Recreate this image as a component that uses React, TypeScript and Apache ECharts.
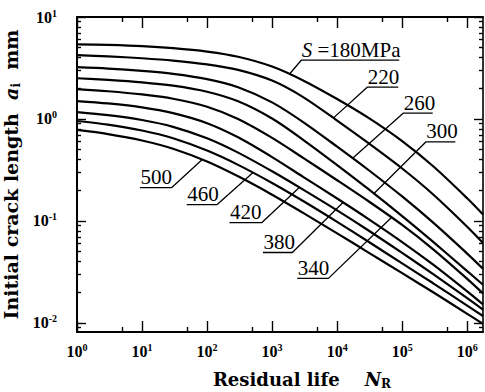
import React, { useEffect, useRef } from 'react';
import * as echarts from 'echarts';

// Residual life N_R (x) at which the crack lengths were read
const residualLife = [1, 3, 10, 30, 100, 300, 1000, 3000, 10000, 30000, 100000, 300000, 1000000, 1750000];

// Stress levels, MPa
const stressLevels = [180, 220, 260, 300, 340, 380, 420, 460, 500];

// Initial crack length a_i (mm) for each stress level
const crackS180 = [5.40, 5.32, 5.18, 4.95, 4.58, 4.08, 3.27, 2.39, 1.57, 1.03, 0.607, 0.344, 0.167, 0.116];
const crackS220 = [4.22, 4.11, 3.94, 3.74, 3.43, 3.03, 2.38, 1.64, 0.964, 0.582, 0.327, 0.182, 0.0879, 0.0609];
const crackS260 = [3.22, 3.12, 2.96, 2.77, 2.46, 2.05, 1.455, 0.933, 0.536, 0.318, 0.174, 0.0963, 0.0479, 0.0340];
const crackS300 = [2.51, 2.42, 2.29, 2.12, 1.85, 1.49, 1.01, 0.625, 0.353, 0.206, 0.1115, 0.0623, 0.0323, 0.0237];
const crackS340 = [1.96, 1.87, 1.74, 1.58, 1.32, 1.00, 0.653, 0.416, 0.251, 0.157, 0.0915, 0.0528, 0.0271, 0.0195];
const crackS380 = [1.50, 1.42, 1.30, 1.14, 0.909, 0.661, 0.423, 0.271, 0.166, 0.105, 0.0622, 0.0373, 0.0204, 0.0152];
const crackS420 = [1.17, 1.09, 0.978, 0.838, 0.647, 0.468, 0.307, 0.203, 0.127, 0.0811, 0.0486, 0.0301, 0.0175, 0.0135];
const crackS460 = [0.956, 0.880, 0.771, 0.647, 0.490, 0.355, 0.236, 0.157, 0.0981, 0.0629, 0.0384, 0.0245, 0.0148, 0.0117];
const crackS500 = [0.781, 0.711, 0.616, 0.511, 0.383, 0.274, 0.181, 0.120, 0.0757, 0.0493, 0.0308, 0.0200, 0.0123, 0.0098];

const crackByStress = [crackS180, crackS220, crackS260, crackS300, crackS340, crackS380, crackS420, crackS460, crackS500];

// Axis extents and tick values
const xMin = 1;
const xMax = 1750000;
const yMin = 0.00816;
const yMax = 10;
const xMajorTicks = [1, 10, 100, 1000, 10000, 100000, 1000000];
const xMinorTicks = [5, 50, 500, 5000, 50000, 500000];
const yMajorTicks = [0.01, 0.1, 1, 10];
const yMinorTicks = [
  0.009,
  0.02, 0.03, 0.04, 0.05, 0.06, 0.07, 0.08, 0.09,
  0.2, 0.3, 0.4, 0.5, 0.6, 0.7, 0.8, 0.9,
  2, 3, 4, 5, 6, 7, 8, 9,
];

// Curve labels: leader path in data coordinates, the text sits on point `at`
const annotationTexts = ['{it|S} =180MPa', '220', '260', '300', '340', '380', '420', '460', '500'];
const annotationPaths: number[][][] = [
  [[1858, 2.76], [2806, 3.77], [90100, 3.77]],
  [[8710, 1.02], [29000, 2.05], [87100, 2.05]],
  [[17300, 0.413], [103600, 1.14], [295000, 1.14]],
  [[36900, 0.186], [231000, 0.596], [658000, 0.596]],
  [[68500, 0.108], [7350, 0.0274], [2440, 0.0274]],
  [[12300, 0.152], [2050, 0.0491], [723, 0.0491]],
  [[2620, 0.213], [698, 0.0965], [221, 0.0965]],
  [[505, 0.297], [143, 0.145], [48.7, 0.145]],
  [[83.5, 0.399], [28.4, 0.212], [9.27, 0.212]],
];
const annotationLabelAt = [1, 1, 1, 1, 2, 2, 2, 2, 2];

const SERIF = '"Liberation Serif", "Times New Roman", serif';
const TITLE = '"DejaVu Serif", serif';

const tickRich = {
  b: { fontSize: 16, fontFamily: SERIF, fontWeight: 'bold', color: '#000', lineHeight: 18, verticalAlign: 'middle' },
  s: { fontSize: 10, fontFamily: SERIF, fontWeight: 'bold', color: '#000', lineHeight: 10, verticalAlign: 'top' },
};

const powFormatter = (v: number) => {
  const e = Math.round(Math.log10(v));
  return '{b|10}{s|' + e + '}';
};

const titleStyle = (size: number, extra: any) => ({
  fontFamily: TITLE,
  fontWeight: 'bold',
  fontSize: size,
  color: '#000',
  lineHeight: 22,
  rich: {
    it: { fontFamily: TITLE, fontStyle: 'italic', fontWeight: 'bold', fontSize: size, color: '#000', lineHeight: 22 },
    sub: { fontFamily: TITLE, fontWeight: 'bold', fontSize: 12, color: '#000', lineHeight: 12, verticalAlign: 'bottom' },
  },
  ...extra,
});

function makeX(position: 'bottom' | 'top', ticks: number[], len: number, main: boolean, withLabel: boolean) {
  const ax: any = {
    type: 'log',
    logBase: 10,
    min: xMin,
    max: xMax,
    gridIndex: 0,
    position,
    axisLine: { show: main, onZero: false, lineStyle: { color: '#000', width: 1.8 } },
    axisTick: { show: true, inside: true, length: len, customValues: ticks, lineStyle: { color: '#000', width: 1.4 } },
    minorTick: { show: false },
    splitLine: { show: false },
    axisLabel: withLabel
      ? { show: true, customValues: xMajorTicks, margin: 10, formatter: powFormatter, rich: tickRich }
      : { show: false },
  };
  if (withLabel) {
    ax.name = 'Residual life    {it|N}{sub|R}';
    ax.nameLocation = 'middle';
    ax.nameGap = 36;
    ax.nameTextStyle = titleStyle(18, { padding: [0, 0, 0, 44] });
  }
  return ax;
}

function makeY(position: 'left' | 'right', ticks: number[], len: number, main: boolean, withLabel: boolean, lineW: number) {
  const ax: any = {
    type: 'log',
    logBase: 10,
    min: yMin,
    max: yMax,
    gridIndex: 0,
    position,
    axisLine: { show: main, onZero: false, lineStyle: { color: '#000', width: lineW } },
    axisTick: { show: true, inside: true, length: len, customValues: ticks, lineStyle: { color: '#000', width: 1.4 } },
    minorTick: { show: false },
    splitLine: { show: false },
    axisLabel: withLabel
      ? { show: true, customValues: yMajorTicks, margin: 20, formatter: powFormatter, rich: tickRich }
      : { show: false },
  };
  if (withLabel) {
    ax.name = 'Initial crack length  {it|a}{sub|i}  mm';
    ax.nameLocation = 'middle';
    ax.nameRotate = 90;
    ax.nameGap = 48;
    ax.nameTextStyle = titleStyle(19, {});
  }
  return ax;
}

export default function App() {
  const ref = useRef<HTMLDivElement>(null);

  useEffect(() => {
    if (!ref.current) return;
    const chart = echarts.init(ref.current, undefined, { renderer: 'svg' });

    const curveSeries = stressLevels.map((s, k) => ({
      name: 'S=' + s + 'MPa',
      type: 'line',
      xAxisIndex: 0,
      yAxisIndex: 0,
      data: residualLife.map((n, i) => [n, crackByStress[k][i]]),
      showSymbol: false,
      symbol: 'none',
      smooth: 0.3,
      lineStyle: { color: '#000', width: 2.2 },
      z: 3,
      silent: true,
    }));

    const annotationSeries = annotationPaths.map((path, k) => ({
      name: 'label-' + k,
      type: 'line',
      xAxisIndex: 0,
      yAxisIndex: 0,
      symbol: 'circle',
      symbolSize: 1,
      showSymbol: true,
      itemStyle: { color: 'rgba(0,0,0,0)', borderWidth: 0 },
      lineStyle: { color: '#000', width: 1.3 },
      z: 4,
      silent: true,
      data: path.map((p, i) => ({
        value: p,
        label: i === annotationLabelAt[k]
          ? {
              show: true,
              formatter: annotationTexts[k],
              position: [0, 0],
              align: 'left',
              verticalAlign: 'bottom',
              offset: [1, 0],
              color: '#000',
              fontFamily: SERIF,
              fontSize: 21,
              lineHeight: 20,
              rich: {
                it: { fontFamily: SERIF, fontStyle: 'italic', fontSize: 21, color: '#000', lineHeight: 20 },
              },
            }
          : { show: false },
      })),
    }));

    chart.setOption({
      animation: false,
      backgroundColor: '#fff',
      grid: { left: 77, right: 2, top: 17, bottom: 60, containLabel: false, outerBoundsMode: 'none' },
      xAxis: [
        makeX('bottom', xMajorTicks, 11, true, true),
        makeX('bottom', xMinorTicks, 5, false, false),
        makeX('top', xMajorTicks, 11, true, false),
        makeX('top', xMinorTicks, 5, false, false),
      ],
      yAxis: [
        makeY('left', yMajorTicks, 9, true, true, 2),
        makeY('left', yMinorTicks, 4, false, false, 2),
        makeY('right', yMajorTicks, 9, true, false, 1.6),
        makeY('right', yMinorTicks, 4, false, false, 1.6),
      ],
      series: [...curveSeries, ...annotationSeries],
    });

    return () => chart.dispose();
  }, []);

  return (
    <div
      ref={ref}
      style={{ position: 'fixed', left: 0, top: 0, width: 485, height: 392, background: '#fff' }}
    />
  );
}
